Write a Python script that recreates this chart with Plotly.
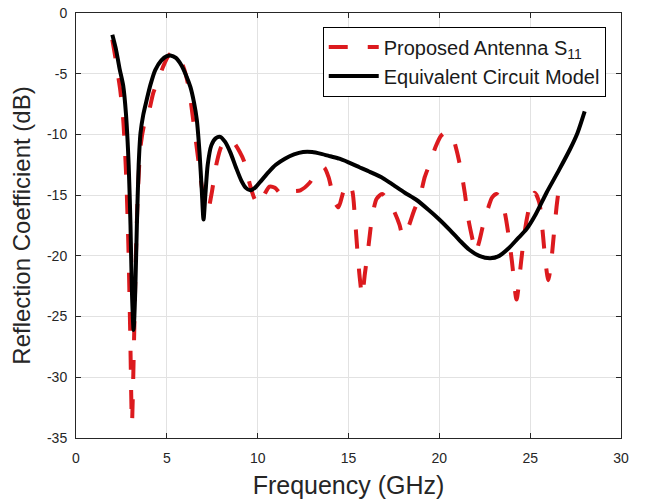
import plotly.graph_objects as go

# Proposed antenna S11 (red dashed)
sim_freq = [2.0, 2.16, 2.3, 2.44, 2.6, 2.75, 2.88, 2.98, 3.08, 3.18, 3.28, 3.4, 3.55, 3.75,
            4.0, 4.25, 4.5, 4.8, 5.1, 5.37, 5.65, 5.95, 6.2, 6.45, 6.75, 7.0, 7.25, 7.45,
            7.75, 8.0, 8.35, 8.7, 9.0, 9.25, 9.55, 9.8, 10.05, 10.35, 10.65, 10.95, 11.35,
            11.8, 12.35, 12.85, 13.35, 13.65, 13.9, 14.05, 14.25, 14.45, 14.7, 14.95, 15.2,
            15.35, 15.5, 15.62, 15.75, 15.9, 16.1, 16.3, 16.55, 16.85, 17.2, 17.5, 17.8,
            18.0, 18.3, 18.6, 18.95, 19.2, 19.5, 19.8, 20.1, 20.4, 20.7, 20.95, 21.2, 21.4,
            21.6, 21.85, 22.0, 22.2, 22.45, 22.7, 22.9, 23.15, 23.4, 23.6, 23.8, 24.0, 24.25,
            24.5, 24.7, 24.95, 25.25, 25.5, 25.7, 25.85, 26.0, 26.15, 26.3, 26.45, 26.6]
sim_s11 = [-2.2, -3.6, -5.0, -6.4, -8.8, -13.0, -19.0, -26.0, -33.8, -28.0, -21.0, -15.0, -11.0, -9.2,
           -8.2, -6.6, -5.6, -4.4, -3.5, -3.2, -3.6, -4.6, -6.1, -8.8, -12.3, -15.0, -16.3, -15.0,
           -12.3, -11.0, -10.4, -10.7, -11.4, -12.2, -14.0, -15.2, -15.8, -15.0, -14.3, -14.4, -15.0,
           -14.7, -14.6, -14.0, -12.9, -12.7, -13.5, -14.4, -15.6, -16.0, -14.8, -14.0, -14.6,
           -16.8, -19.8, -21.8, -23.3, -21.5, -19.2, -16.8, -15.3, -14.9, -15.5, -16.3, -17.4,
           -18.4, -17.6, -16.3, -15.0, -13.5, -12.3, -11.0, -10.1, -9.8, -10.1, -11.3, -13.0, -14.8,
           -17.0, -18.8, -19.7, -18.8, -17.2, -16.0, -15.2, -14.9, -15.4, -16.4, -18.2, -20.5, -23.6,
           -20.5, -18.0, -16.0, -14.8, -15.6, -18.2, -20.6, -22.0, -20.6, -18.3, -16.0, -14.2]

# Equivalent circuit model (black solid)
ecm_freq = [2.0, 2.2, 2.4, 2.6, 2.75, 2.9, 3.0, 3.08, 3.17, 3.26, 3.35, 3.45, 3.55, 3.7, 3.9,
            4.1, 4.36, 4.7, 5.0, 5.2, 5.5, 5.8, 6.05, 6.3, 6.5, 6.65, 6.8, 6.92, 7.02, 7.12,
            7.25, 7.45, 7.7, 7.94, 8.2, 8.5, 8.8, 9.1, 9.35, 9.59, 9.85, 10.2, 10.6, 11.0,
            11.5, 12.0, 12.5, 13.0, 13.5, 14.0, 14.5, 15.0, 15.6, 16.2, 16.9, 17.5, 18.1,
            18.75, 19.4, 20.0, 20.6, 21.1, 21.65, 22.2, 22.8, 23.3, 23.8, 24.3, 24.8, 25.3,
            25.9, 26.6, 27.2, 27.6, 28.0]
ecm_s11 = [-1.8, -3.0, -4.6, -6.0, -8.3, -12.5, -17.5, -23.0, -26.1, -23.0, -17.5, -12.5, -9.9, -8.4, -7.1,
           -5.9, -4.7, -3.9, -3.55, -3.5, -3.7, -4.3, -5.1, -6.1, -7.4, -8.8, -11.5, -14.5, -17.0, -15.0,
           -12.5, -10.9, -10.3, -10.2, -10.6, -11.5, -12.7, -13.8, -14.4, -14.6, -14.4, -13.8, -13.1, -12.5,
           -12.0, -11.65, -11.45, -11.45, -11.6, -11.8, -12.0, -12.3, -12.7, -13.1, -13.6, -14.2, -14.8,
           -15.4, -16.2, -17.0, -17.9, -18.7, -19.5, -20.0, -20.2, -20.0, -19.4, -18.6, -17.8, -16.6,
           -14.8, -12.9, -11.2, -9.9, -8.1]

x_ticks = [0, 5, 10, 15, 20, 25, 30]
x_tick_labels = ["0", "5", "10", "15", "20", "25", "30"]
y_ticks = [0, -5, -10, -15, -20, -25, -30, -35]
y_tick_labels = ["0", "-5", "-10", "-15", "-20", "-25", "-30", "-35"]

series_names = ["Proposed Antenna S<sub>11</sub>", "Equivalent Circuit Model"]

FONT = "Liberation Sans, Arial, Helvetica, sans-serif"
AX = "#262626"

fig = go.Figure()
fig.add_trace(go.Scatter(
    x=sim_freq, y=sim_s11, mode="lines", name=series_names[0],
    line=dict(color="#dc1a1e", width=4, dash="19px,20px", shape="spline", smoothing=0.7),
))
fig.add_trace(go.Scatter(
    x=ecm_freq, y=ecm_s11, mode="lines", name=series_names[1],
    line=dict(color="#000000", width=4, shape="spline", smoothing=0.7),
))

axis_common = dict(
    ticks="inside", ticklen=5, tickcolor=AX, tickwidth=1,
    showline=True, linecolor=AX, linewidth=1, mirror="ticks",
    showgrid=True, gridcolor="#e2e2e2", gridwidth=1, zeroline=False,
    tickfont=dict(size=14, color=AX, family=FONT), automargin=False,
)

fig.update_layout(
    width=645, height=504,
    margin=dict(l=76, r=24, t=13, b=66, autoexpand=False),
    plot_bgcolor="white", paper_bgcolor="white",
    font=dict(family=FONT, color=AX),
    xaxis=dict(range=[0, 30], tickvals=x_ticks, ticktext=x_tick_labels, ticklabelstandoff=7,
               title=dict(text="Frequency (GHz)", font=dict(size=25, color=AX), standoff=11),
               **axis_common),
    yaxis=dict(range=[-35, 0], tickvals=y_ticks, ticktext=y_tick_labels, ticklabelstandoff=5,
               title=dict(text="Reflection Coefficient (dB)", font=dict(size=24, color=AX), standoff=9),
               **axis_common),
    legend=dict(x=0.972, y=0.968, xanchor="right", yanchor="top",
                bgcolor="white", bordercolor="#000000", borderwidth=1,
                font=dict(size=20, color="#1a1a1a", family=FONT), itemwidth=50,
                tracegroupgap=0),
    showlegend=True,
)

fig.write_html("out.html", config={"displayModeBar": False},
               post_script="document.body.style.margin='0';")
